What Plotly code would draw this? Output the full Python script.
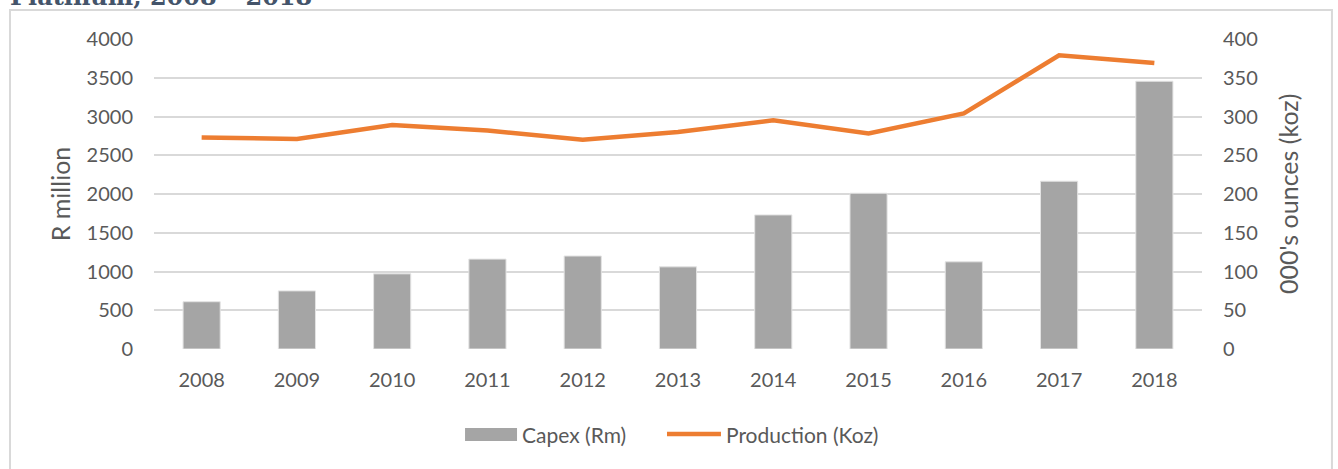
import plotly.graph_objects as go

# данные
years = ['2008', '2009', '2010', '2011', '2012', '2013', '2014', '2015', '2016', '2017', '2018']
capex_rm = [610, 750, 970, 1160, 1200, 1060, 1730, 2010, 1125, 2165, 3455]
production_koz = [273, 271, 289, 282, 270, 280, 295, 278, 304, 379, 369]
series_names = ['Capex (Rm)', 'Production (Koz)']

font_main = 'Lato'
text_col = '#595959'
bar_col = '#A5A5A5'
line_col = '#ED7D31'

fig = go.Figure()
fig.add_trace(go.Bar(x=years, y=capex_rm, name=series_names[0],
                     marker=dict(color=bar_col, line=dict(color='#E3E3E3', width=1))))
fig.add_trace(go.Scatter(x=years, y=production_koz, name=series_names[1], mode='lines',
                         line=dict(color=line_col, width=4.5), yaxis='y2'))

fig.update_layout(
    width=1338, height=469,
    margin=dict(l=154, r=136, t=39, b=120),
    paper_bgcolor='white', plot_bgcolor='white',
    font=dict(family=font_main, size=20, color=text_col),
    bargap=0.61,
    showlegend=False,
    xaxis=dict(showgrid=False, showline=False, ticks='', ticklabelstandoff=17),
    yaxis=dict(range=[0, 4000], dtick=500, showgrid=True, gridcolor='#D9D9D9', gridwidth=1.5,
               zeroline=False, showline=False, ticklabelstandoff=20,
               title=dict(text='R million', standoff=8, font=dict(size=25, color=text_col))),
    yaxis2=dict(range=[0, 400], dtick=50, overlaying='y', side='right', showgrid=False,
                zeroline=False, showline=False, ticklabelstandoff=20),
)

# подпись правой оси
fig.add_annotation(text="000's ounces (koz)", xref='paper', yref='paper', x=1.0821, y=0.5,
                   xanchor='center', yanchor='middle', textangle=-90, showarrow=False,
                   font=dict(size=25, color=text_col))

# рамка диаграммы
fig.add_shape(type='rect', xref='paper', yref='paper',
              x0=-0.1374, x1=1.124, y0=-0.6, y1=1.0935,
              line=dict(color='#D9D9D9', width=2), fillcolor='rgba(0,0,0,0)', layer='below')

# легенда вручную (широкий прямоугольник для столбцов, как в Excel)
fig.add_shape(type='rect', xref='paper', yref='paper', x0=0.2968, x1=0.3464, y0=-0.2968, y1=-0.2548,
              line=dict(width=0), fillcolor=bar_col)
fig.add_annotation(text=series_names[0], xref='paper', yref='paper', x=0.3492, y=-0.2742,
                   xanchor='left', yanchor='middle', showarrow=False, font=dict(size=21, color=text_col))
fig.add_shape(type='line', xref='paper', yref='paper', x0=0.4895, x1=0.541, y0=-0.2742, y1=-0.2742,
              line=dict(color=line_col, width=4.5))
fig.add_annotation(text=series_names[1], xref='paper', yref='paper', x=0.5439, y=-0.2742,
                   xanchor='left', yanchor='middle', showarrow=False, font=dict(size=21, color=text_col))

# заголовок (обрезан сверху)
fig.add_annotation(text='<b>Platinum, 2008 – 2018</b>', xref='paper', yref='paper',
                   x=-0.1393, y=1.084, xanchor='left', yanchor='bottom', showarrow=False,
                   font=dict(family='DejaVu Serif', size=24, color='#44546A'))

fig.write_html('out.html', config={'displayModeBar': False},
               post_script="document.body.style.margin='0';")
